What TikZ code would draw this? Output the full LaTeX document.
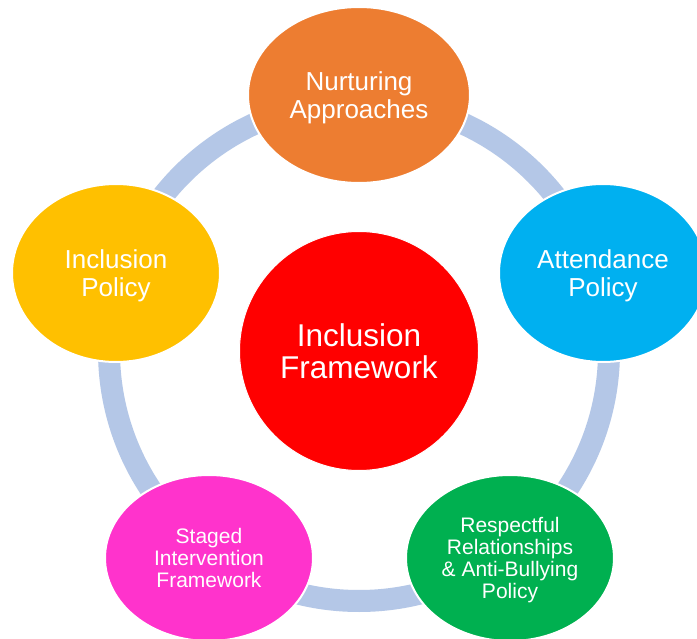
\documentclass[tikz,border=0pt]{standalone}
\usepackage{fontspec}
\setmainfont{Liberation Sans}
\usetikzlibrary{shapes.geometric}
\definecolor{ringc}{HTML}{B4C7E7}
\definecolor{orangec}{HTML}{ED7D31}
\definecolor{bluec}{HTML}{00B0F0}
\definecolor{yellowc}{HTML}{FFC000}
\definecolor{pinkc}{HTML}{FF33CC}
\definecolor{greenc}{HTML}{00B050}
\definecolor{redc}{HTML}{FF0000}
\tikzset{
  bubble/.style={ellipse, draw=white, line width=2pt, inner sep=0pt, text=white, align=center, text depth=0pt},
  bigtxt/.style={font=\fontsize{26}{27.5}\selectfont},
  smalltxt/.style={font=\fontsize{21}{22}\selectfont},
}
\begin{document}
\begin{tikzpicture}[x=1pt,y=-1pt]
\useasboundingbox (0,0) rectangle (697,639);
\clip (0,0) rectangle (697,639);
\fill[white] (0,0) rectangle (697,639);
\node[circle, draw=ringc, line width=22pt, minimum size=500pt, inner sep=0pt] (ring) at (359,351) {};
\node[bubble, bigtxt, fill=orangec, minimum width=222pt, minimum height=176pt] (nurt) at (359,95) {Nurturing\\Approaches};
\node[bubble, bigtxt, fill=bluec, minimum width=208pt, minimum height=178pt] (att) at (603,273) {Attendance\\Policy};
\node[bubble, bigtxt, fill=yellowc, minimum width=208pt, minimum height=178pt] (incp) at (116,273) {Inclusion\\Policy};
\node[bubble, smalltxt, fill=pinkc, minimum width=208pt, minimum height=166pt] (staged) at (209,558) {Staged\\Intervention\\Framework};
\node[bubble, smalltxt, fill=greenc, minimum width=208pt, minimum height=166pt] (resp) at (510,558) {Respectful\\Relationships\\\& Anti-Bullying\\Policy};
\node[circle, fill=redc, draw=white, line width=1pt, minimum size=239pt, inner sep=0pt, text=white, align=center, text depth=0pt, font=\fontsize{31.5}{32.5}\selectfont] (frame) at (359,351) {Inclusion\\Framework};
\end{tikzpicture}
\end{document}
